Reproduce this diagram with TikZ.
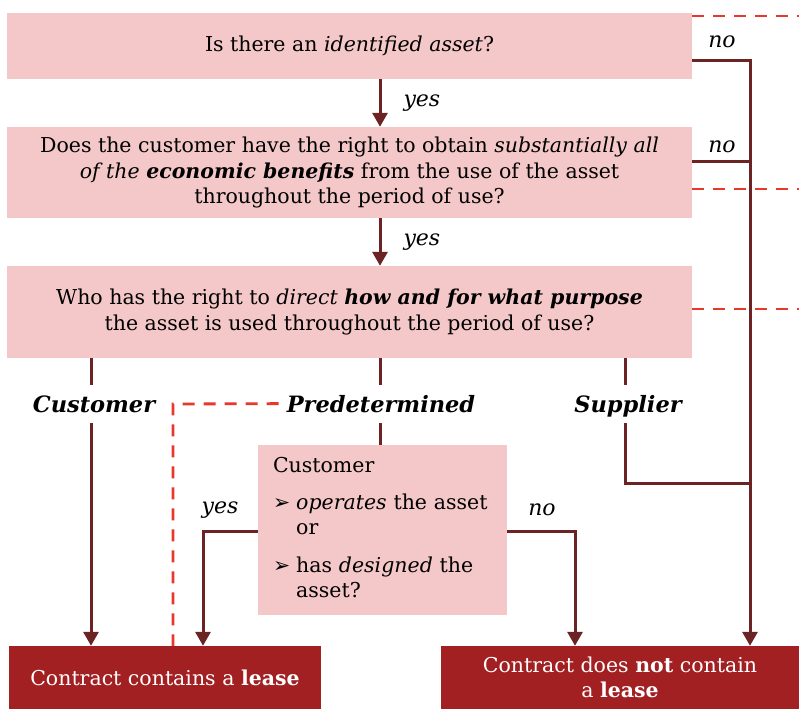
\documentclass[tikz,border=0pt]{standalone}
\usepackage{fontspec}
\setmainfont{DejaVu Serif}
\newfontfamily\arrowfont{DejaVu Sans}
\usetikzlibrary{positioning,arrows.meta,calc}
\definecolor{boxpink}{RGB}{244,199,200}
\definecolor{linebrown}{RGB}{107,35,35}
\definecolor{leasered}{RGB}{162,31,34}
\definecolor{dashred}{RGB}{232,56,43}
\tikzset{
	x=1pt, y=-1pt,
	question/.style={fill=boxpink, inner sep=0pt, align=center, minimum width=685pt, font=\fontsize{20.5}{25.5}\selectfont},
	result/.style={fill=leasered, text=white, inner sep=0pt, align=center, minimum height=63pt, font=\fontsize{20.5}{25}\selectfont},
	choice/.style={inner sep=0pt, anchor=base, font=\fontsize{22.5}{24}\selectfont\bfseries\itshape},
	answer/.style={inner sep=0pt, font=\fontsize{22}{24}\selectfont\itshape}
}
\newcommand{\pointer}{{\arrowfont\char"27A2}}

\begin{document}
\begin{tikzpicture}[
		flow/.style={draw=linebrown, line width=3pt, -{Triangle[length=14pt,width=15pt]}},
		conn/.style={draw=linebrown, line width=3pt},
		dashline/.style={draw=dashred, line width=2.8pt, dash pattern=on 12pt off 9pt}
	]
	\useasboundingbox (0,0) rectangle (799,709);
	% questions
	\node[question, minimum height=66pt] (q1) at (349.5,46) {Is there an \textit{identified asset}?};
	\node[question, minimum height=91pt] (q2) at (349.5,172.5) {Does the customer have the right to obtain \textit{substantially all}\\
		\textit{of the} \textbf{\textit{economic benefits}} from the use of the asset\\
		throughout the period of use?};
	\node[question, minimum height=92pt] (q3) at (349.5,312) {Who has the right to \textit{direct} \textbf{\textit{how and for what purpose}}\\
		the asset is used throughout the period of use?};
	\node[fill=boxpink, inner xsep=15pt, inner ysep=0pt, text width=219pt, minimum height=170pt, font=\fontsize{20.5}{25.5}\selectfont] (custbox) at (382.5,530) {%
		\begin{tabular}{@{}l@{\hspace{6pt}}l@{}}
			\multicolumn{2}{@{}l}{Customer}\\[11pt]
			\pointer & \textit{operates} the asset\\
			& or\\[12pt]
			\pointer & has \textit{designed} the\\
			& asset?
		\end{tabular}};
	% results
	\node[result, minimum width=312pt] (lease) at (165,677.5) {Contract contains a \textbf{lease}};
	\node[result, minimum width=358pt] (nolease) at (620,677.5) {Contract does \textbf{not} contain\\ a \textbf{lease}};
	% who directs
	\node[choice] (cust) at (94,412) {Customer};
	\node[choice] (pred) at (381,412) {Predetermined};
	\node[choice] (supp) at (628,412) {Supplier};
	\coordinate (busA) at (750,60);
	\coordinate (busB) at (750,161);
	\coordinate (busC) at (750,483);
	\coordinate (custline) at (91,0);
	\coordinate (predline) at (380,0);
	\coordinate (suppline) at (625,0);
	\coordinate (yesturn) at (203,531);
	\coordinate (noturn) at (575,531);
	\coordinate (dcorner) at (173,404);
	% dashed lines
	\draw[dashline] (q1.east |- 0,16) -- (799,16);
	\draw[dashline] (q2.east |- 0,189) -- (799,189);
	\draw[dashline] (q3.east |- 0,309) -- (799,309);
	\draw[dashline] ($(pred.west)+(-8,0)$) -- (dcorner) -- (dcorner |- lease.north);
	% connectors
	\draw[flow] (q1.south -| predline) -- node[answer, right=22pt] (y1) {yes} (q2.north -| predline);
	\draw[flow] (q2.south -| predline) -- node[answer, right=22pt] (y2) {yes} (q3.north -| predline);
	\draw[flow] (q1.east |- busA) -- (busA) -- (busA |- nolease.north);
	\draw[conn] (q2.east |- busB) -- (busB);
	\node[answer] (n1) at (722,42) {no};
	\node[answer] (n2) at (722,147) {no};
	\draw[conn] (q3.south -| custline) -- ($(cust.base -| custline)+(0,-27)$);
	\draw[flow] ($(cust.base -| custline)+(0,11)$) -- (lease.north -| custline);
	\draw[conn] (q3.south -| predline) -- ($(pred.base -| predline)+(0,-27)$);
	\draw[conn] ($(pred.base -| predline)+(0,11)$) -- (custbox.north -| predline);
	\draw[conn] (q3.south -| suppline) -- ($(supp.base -| suppline)+(0,-27)$);
	\draw[conn] ($(supp.base -| suppline)+(0,11)$) -- (suppline |- busC) -- (busC);
	\draw[flow] (custbox.west |- yesturn) -- (yesturn) -- (yesturn |- lease.north);
	\draw[flow] (custbox.east |- noturn) -- (noturn) -- (noturn |- nolease.north);
	\node[answer] (y3) at (220,510) {yes};
	\node[answer] (n3) at (542,510) {no};
\end{tikzpicture}
\end{document}
